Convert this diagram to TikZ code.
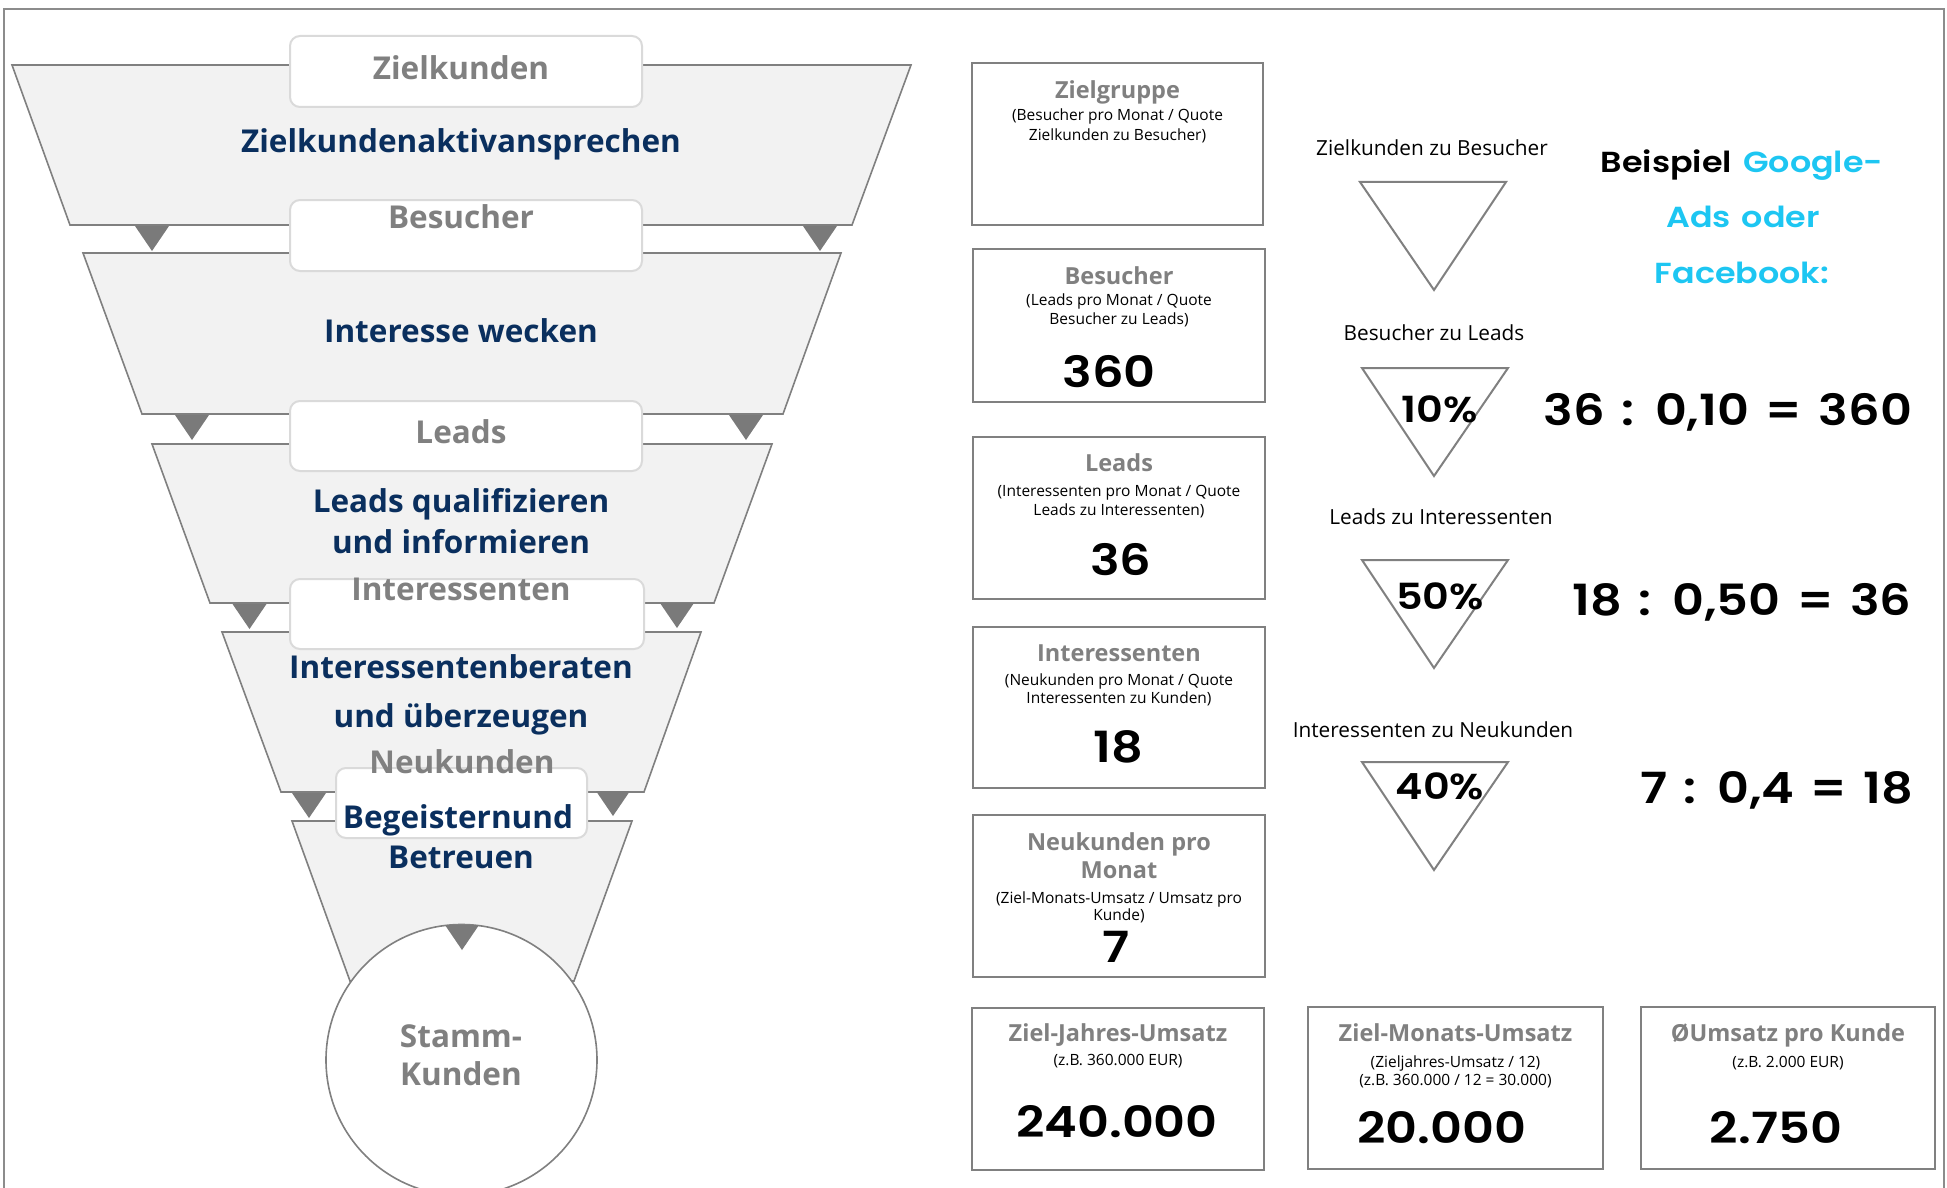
\documentclass[tikz,border=0pt]{standalone}
\usepackage{fontspec}
\setmainfont{Open Sans}
\newfontfamily\hand{Poppins}[BoldFont={Poppins SemiBold}, FakeStretch=1.15, WordSpace=1.4]
\definecolor{ffill}{HTML}{F2F2F2}
\definecolor{fline}{HTML}{808080}
\definecolor{lline}{HTML}{DADADA}
\definecolor{markc}{HTML}{7A7A7A}
\definecolor{tgray}{HTML}{808080}
\definecolor{navy}{HTML}{0A2F5E}
\definecolor{cyanh}{HTML}{1DC6F2}
\definecolor{framec}{HTML}{8C8C8C}
\tikzset{
  trap/.style={draw=fline, fill=ffill, line width=1.6pt, line join=miter},
  lbox/.style={draw=lline, fill=white, line width=2pt, rounded corners=10pt, inner sep=0pt},
  rbox/.style={draw=fline, fill=white, line width=2pt, inner sep=0pt},
  tri/.style={draw=fline, fill=white, line width=2pt},
  gl/.style={font=\bfseries\fontsize{31.5}{36}\selectfont, text=tgray, inner sep=0pt, text height=22pt, text depth=0pt},
  nv/.style={font=\bfseries\fontsize{31.5}{36}\selectfont, text=navy, inner sep=0pt, text height=22pt, text depth=0pt},
  ttl/.style={font=\bfseries\fontsize{23.5}{27}\selectfont, text=tgray, inner sep=0pt, text height=16.5pt, text depth=0pt},
  sub/.style={font=\fontsize{15.5}{18}\selectfont, text=black, inner sep=0pt, text height=10.7pt, text depth=0pt},
  lab/.style={font=\fontsize{20.8}{24}\selectfont, text=black, inner sep=0pt, text height=14.5pt, text depth=0pt},
  num/.style={font=\hand\bfseries\fontsize{43}{48}\selectfont, text=black, inner sep=0pt, text height=30pt, text depth=0pt},
  pct/.style={font=\hand\bfseries\fontsize{36}{40}\selectfont, text=black, inner sep=0pt, text height=25pt, text depth=0pt},
  bsp/.style={font=\hand\bfseries\fontsize{29}{34}\selectfont, inner sep=0pt, text height=20pt, text depth=0pt},
}
\newcommand{\mk}[2]{\fill[markc] (#1-17,#2) -- (#1+17,#2) -- (#1,#2+25) -- cycle;}
\begin{document}
\begin{tikzpicture}[x=1pt,y=-1pt]
\useasboundingbox (0,0) rectangle (1947,1188);
% outer frame
\draw[framec, line width=2pt] (4,1188) -- (4,9) -- (1944,9) -- (1944,1188);

% funnel
\draw[trap] (12,65) -- (911,65) -- (852,225) -- (70,225) -- cycle;
\draw[trap] (83,253) -- (841,253) -- (783,414) -- (142,414) -- cycle;
\draw[trap] (152,444) -- (772,444) -- (714,603) -- (210,603) -- cycle;
\draw[trap] (222,632) -- (701,632) -- (644,792) -- (281,792) -- cycle;
\draw[trap] (292,821) -- (632,821) -- (574,981) -- (350,981) -- cycle;

\mk{152}{226}\mk{820}{226}
\mk{192}{415}\mk{746}{415}
\mk{249.5}{604}\mk{677}{603}
\mk{309}{793}\mk{613}{791}

% label boxes
\node[lbox, minimum width=352pt, minimum height=71pt] (lb1) at (466,71.5) {};
\node[lbox, minimum width=352pt, minimum height=71pt] (lb2) at (466,235.5) {};
\node[lbox, minimum width=352pt, minimum height=70pt] (lb3) at (466,436) {};
\node[lbox, minimum width=354pt, minimum height=70pt] (lb4) at (467,614) {};
\node[lbox, minimum width=251pt, minimum height=70pt] (lb5) at (461.5,803) {};

% circle
\node[circle, draw=fline, fill=white, line width=1.6pt, minimum size=271pt, inner sep=0pt] (stamm) at (461.5,1060) {};
\mk{462}{925}

% funnel texts
\node[gl] (t1) at (461,69) {Zielkunden};
\node[nv] (n1) at (461,142) {Zielkundenaktivansprechen};
\node[gl] (t2) at (461,217) {Besucher};
\node[nv] (n2) at (461,331) {Interesse wecken};
\node[gl] (t3) at (461,432) {Leads};
\node[nv] (n3a) at (461,501) {Leads qualifizieren};
\node[nv] (n3b) at (461,542) {und informieren};
\node[gl] (t4) at (461,589) {Interessenten};
\node[nv] (n4a) at (461,667) {Interessentenberaten};
\node[nv] (n4b) at (461,716) {und überzeugen};
\node[gl] (t5) at (462,762) {Neukunden};
\node[nv] (n5a) at (458,817) {Begeisternund};
\node[nv] (n5b) at (461,857) {Betreuen};
\node[gl] (s1) at (461,1036) {Stamm-};
\node[gl] (s2) at (461,1074) {Kunden};

% right boxes
\node[rbox, minimum width=291pt, minimum height=162pt] (bzg) at (1117.5,144) {};
\node[rbox, minimum width=292pt, minimum height=153pt] (bbe) at (1119,325.5) {};
\node[rbox, minimum width=292pt, minimum height=162pt] (ble) at (1119,518) {};
\node[rbox, minimum width=292pt, minimum height=161pt] (bin) at (1119,707.5) {};
\node[rbox, minimum width=292pt, minimum height=162pt] (bne) at (1119,896) {};
\node[rbox, minimum width=292pt, minimum height=162pt] (bzj) at (1118,1089) {};
\node[rbox, minimum width=295pt, minimum height=162pt] (bzm) at (1455.5,1088) {};
\node[rbox, minimum width=294pt, minimum height=162pt] (bum) at (1788,1088) {};

\node[ttl] at (1117.5,90) {Zielgruppe};
\node[sub] at (1117.5,115) {(Besucher pro Monat / Quote};
\node[sub] at (1117.5,135) {Zielkunden zu Besucher)};

\node[ttl] at (1119,276) {Besucher};
\node[sub] at (1119,300) {(Leads pro Monat / Quote};
\node[sub] at (1119,319) {Besucher zu Leads)};
\node[num] at (1109,372) {360};

\node[ttl] at (1119,463) {Leads};
\node[sub] at (1119,491) {(Interessenten pro Monat / Quote};
\node[sub] at (1119,510) {Leads zu Interessenten)};
\node[num] at (1121,560) {36};

\node[ttl] at (1119,653) {Interessenten};
\node[sub] at (1119,680) {(Neukunden pro Monat / Quote};
\node[sub] at (1119,698) {Interessenten zu Kunden)};
\node[num] at (1118,747) {18};

\node[ttl] at (1119,842) {Neukunden pro};
\node[ttl] at (1119,870) {Monat};
\node[sub] at (1119,898) {(Ziel-Monats-Umsatz / Umsatz pro};
\node[sub] at (1119,915) {Kunde)};
\node[num] at (1116,947) {7};

\node[ttl] at (1118,1033) {Ziel-Jahres-Umsatz};
\node[sub] at (1118,1060) {(z.B. 360.000 EUR)};
\node[num] at (1117,1122) {240.000};

\node[ttl] at (1455.5,1033) {Ziel-Monats-Umsatz};
\node[sub] at (1455.5,1062) {(Zieljahres-Umsatz / 12)};
\node[sub] at (1455.5,1080) {(z.B. 360.000 / 12 = 30.000)};
\node[num] at (1442,1128) {20.000};

\node[ttl] at (1788,1033) {ØUmsatz pro Kunde};
\node[sub] at (1788,1062) {(z.B. 2.000 EUR)};
\node[num] at (1776,1128) {2.750};

% ratios
\node[lab] at (1432,148) {Zielkunden zu Besucher};
\draw[tri] (1360,182) -- (1506,182) -- (1434,290) -- cycle;
\node[lab] at (1434,333) {Besucher zu Leads};
\draw[tri] (1362,368) -- (1508,368) -- (1434,476) -- cycle;
\node[pct] at (1440,410) {10\%};
\node[num] at (1728,410) {36 : 0,10 = 360};
\node[lab] at (1441,517) {Leads zu Interessenten};
\draw[tri] (1362,560) -- (1508,560) -- (1434,668) -- cycle;
\node[pct] at (1440,597) {50\%};
\node[num] at (1742,600) {18 : 0,50 = 36};
\node[lab] at (1433,730) {Interessenten zu Neukunden};
\draw[tri] (1362,762) -- (1508,762) -- (1434,870) -- cycle;
\node[pct] at (1440,787) {40\%};
\node[num] at (1777,788) {7 : 0,4 = 18};

% example
\node[bsp] at (1742,162) {Beispiel \textcolor{cyanh}{Google-}};
\node[bsp, text=cyanh] at (1743,217) {Ads oder};
\node[bsp, text=cyanh] at (1742,273) {Facebook:};
\end{tikzpicture}
\end{document}
